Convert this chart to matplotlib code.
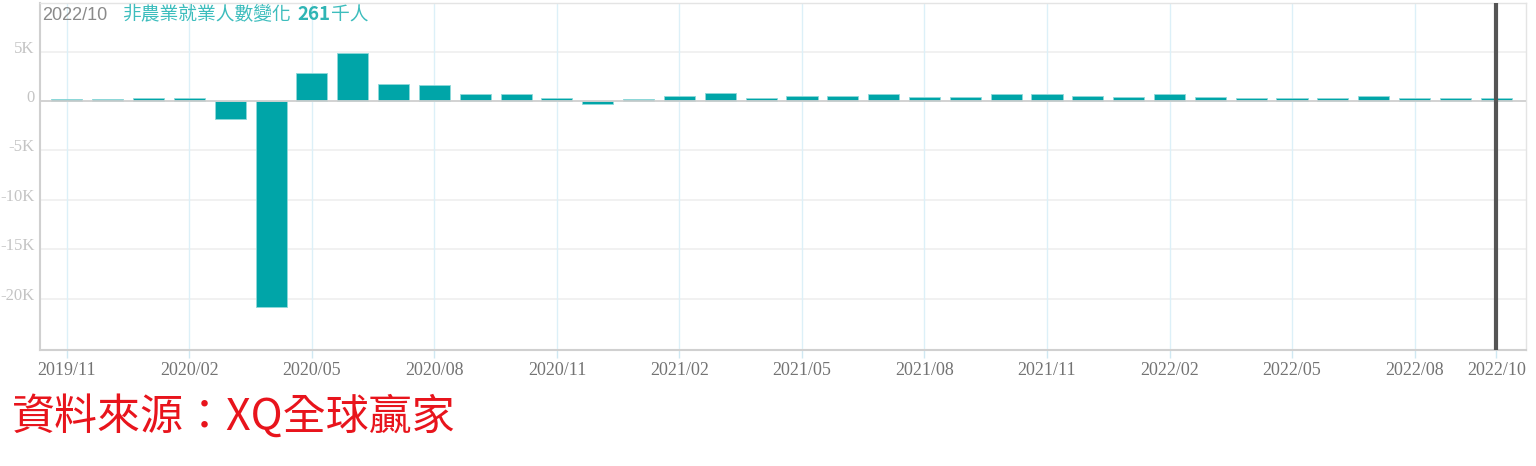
import matplotlib
matplotlib.use("Agg")
import matplotlib.pyplot as plt
import matplotlib.transforms as mtransforms
import numpy as np

months = ["2019/11", "2019/12", "2020/01", "2020/02", "2020/03", "2020/04",
          "2020/05", "2020/06", "2020/07", "2020/08", "2020/09", "2020/10",
          "2020/11", "2020/12", "2021/01", "2021/02", "2021/03", "2021/04",
          "2021/05", "2021/06", "2021/07", "2021/08", "2021/09", "2021/10",
          "2021/11", "2021/12", "2022/01", "2022/02", "2022/03", "2022/04",
          "2022/05", "2022/06", "2022/07", "2022/08", "2022/09", "2022/10"]
# change in nonfarm payrolls, thousands of persons
values = [200, 180, 300, 300, -1800, -20800,
          2850, 4900, 1750, 1600, 700, 680,
          300, -300, 200, 550, 800, 300,
          550, 550, 680, 450, 450, 680,
          680, 550, 450, 680, 450, 320,
          320, 320, 550, 320, 300, 261]
tick_labels = ["2019/11", "2020/02", "2020/05", "2020/08", "2020/11", "2021/02",
               "2021/05", "2021/08", "2021/11", "2022/02", "2022/05", "2022/08",
               "2022/10"]
y_ticks = [5000, 0, -5000, -10000, -15000, -20000]
y_tick_labels = ["5K", "0", "-5K", "-10K", "-15K", "-20K"]

W, H = 1536, 466
fig = plt.figure(figsize=(W / 100, H / 100), dpi=100)
ax = fig.add_axes([40 / W, 1 - 349.5 / H, (1526 - 40) / W, (349.5 - 3.3) / H])

x = np.arange(len(months))
teal = "#00A5A8"
ax.bar(x, values, width=0.76, color=teal, edgecolor="#8fd9d9", linewidth=0.6, zorder=3)

ax.set_xlim(-0.66, 35.73)
ax.set_ylim(-25130, 9890)

# grids
for yt in y_ticks:
    if yt != 0:
        ax.axhline(yt, color="#efefef", lw=1.2, zorder=1)
ax.axhline(0, color="#cfcfcf", lw=1.3, zorder=4)
tick_pos = [months.index(t) for t in tick_labels]
for xp in tick_pos:
    ax.axvline(xp, color="#dcf0f8", lw=1.0, zorder=1)

# dark cursor line
ax.axvline(months.index("2022/10"), color="#555555", lw=3, zorder=6)

# spines
for s in ["left", "bottom"]:
    ax.spines[s].set_color("#d0d0d0")
    ax.spines[s].set_linewidth(1.5)
for s in ["top", "right"]:
    ax.spines[s].set_color("#e4e4e4")
    ax.spines[s].set_linewidth(1.0)

ax.set_xticks(tick_pos)
ax.set_xticklabels(tick_labels, fontfamily="Liberation Serif", fontsize=13, color="#737373")
ax.tick_params(axis="x", length=6, width=1, color="#cfe8f2", pad=3)
ax.set_yticks(y_ticks)
ax.set_yticklabels(y_tick_labels, fontfamily="Liberation Serif", fontsize=12, color="#c4c4c4")
ax.tick_params(axis="y", length=0, pad=4)
offset = mtransforms.ScaledTranslation(0, 5 / 100, fig.dpi_scale_trans)
for lbl in ax.get_yticklabels():
    lbl.set_transform(lbl.get_transform() + offset)

# header text
cjk = ["Noto Sans CJK TC", "DejaVu Sans"]
t1 = fig.text(42 / W, 1 - 15 / H, "2022/10", ha="left", va="center",
              fontsize=13, color="#8a8a8a", family="Liberation Sans", zorder=7)
t2 = fig.text(122 / W, 1 - 15 / H, "非農業就業人數變化", ha="left", va="center",
              fontsize=13.5, color="#3dbdbd", family=cjk)
t3 = ax.annotate("261", xy=(1, 0.5), xycoords=t2, xytext=(5, 0), textcoords="offset points",
                 ha="left", va="center", fontweight="bold", fontsize=13.5,
                 color="#2fb5b5", family=cjk)
t4 = ax.annotate("千人", xy=(1, 0.5), xycoords=t3, xytext=(0, 0), textcoords="offset points",
                 ha="left", va="center", fontsize=13.5, color="#3dbdbd", family=cjk)

# source text
fig.text(12 / W, 1 - 418 / H, "資料來源：XQ全球贏家", ha="left", va="center",
         fontsize=31, color="#e8141c", family=cjk)

fig.savefig("out.png", dpi=100)
